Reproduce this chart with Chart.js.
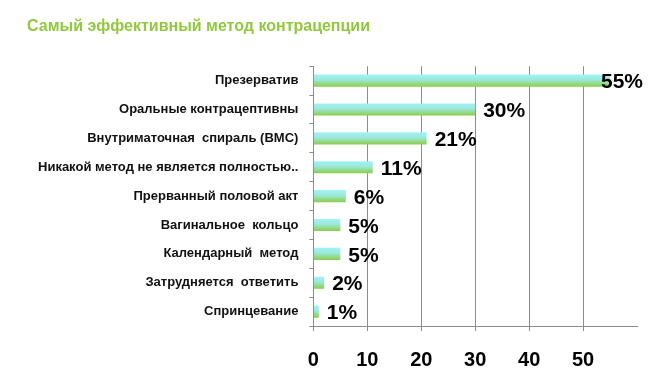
<!DOCTYPE html>
<html>
<head>
<meta charset="utf-8">
<script src="https://cdn.jsdelivr.net/npm/chart.js@4"></script>
<style>
  html, body { margin:0; padding:0; background:#fff; }
  #wrap { width:670px; height:380px; position:relative; }
</style>
</head>
<body>
<div id="wrap"><canvas id="methods" width="670" height="380"></canvas></div>
<script>
var chartTitle = "Самый эффективный метод контрацепции";
var methods = [
    "Презерватив",
    "Оральные контрацептивны",
    "Внутриматочная  спираль (ВМС)",
    "Никакой метод не является полностью..",
    "Прерванный половой акт",
    "Вагинальное  кольцо",
    "Календарный  метод",
    "Затрудняется  ответить",
    "Спринцевание"
];
var percents = [55, 30, 21, 11, 6, 5, 5, 2, 1];
var xTicks = [0, 10, 20, 30, 40, 50];

// вертикальный градиент для каждого бара
function barFill(ctx){
    var chart = ctx.chart;
    var y = chart.scales.y;
    if (!y || ctx.dataIndex === undefined) return "#8fd14f";
    var c = y.getPixelForValue(ctx.dataIndex);
    if (!isFinite(c)) return "#8fd14f";
    var g = chart.ctx.createLinearGradient(0, c - 6, 0, c + 6);
    g.addColorStop(0, "#a2f2f8");
    g.addColorStop(0.45, "#9ce8d8");
    g.addColorStop(1, "#8ccd48");
    return g;
}

var valueLabels = {
    id: "valueLabels",
    afterDatasetsDraw: function(chart){
        var ctx = chart.ctx;
        var meta = chart.getDatasetMeta(0);
        ctx.save();
        ctx.font = "bold 21px 'Liberation Sans', Arial, sans-serif";
        ctx.fillStyle = "#000";
        ctx.textBaseline = "middle";
        ctx.textAlign = "left";
        for (let i = 0; i < meta.data.length; i++){
            let bar = meta.data[i];
            let x = bar.x + 8;
            let txt = percents[i] + "%";
            let w = ctx.measureText(txt).width;
            if (x + w > chart.width - 27) x = chart.width - 27 - w;
            ctx.fillText(txt, x, bar.y + 2);
        }
        ctx.restore();
    }
};

new Chart(document.getElementById("methods"), {
    type: "bar",
    data: {
        labels: methods,
        datasets: [{
            data: percents,
            backgroundColor: barFill,
            borderWidth: 0,
            categoryPercentage: 1,
            barPercentage: 0.42
        }]
    },
    options: {
        indexAxis: "y",
        responsive: false,
        animation: false,
        layout: { padding: { left: 27, right: 33, top: 0, bottom: 0 } },
        plugins: {
            legend: { display: false },
            tooltip: { enabled: false },
            title: {
                display: true,
                text: chartTitle,
                align: "start",
                color: "#92c83e",
                font: { family: "'Liberation Sans', Arial, sans-serif", size: 16, weight: "bold" },
                padding: { top: 17, bottom: 30 }
            }
        },
        scales: {
            x: {
                min: 0,
                max: 60,
                afterBuildTicks: function(axis){
                    axis.ticks = xTicks.map(function(v){ return { value: v }; });
                },
                afterFit: function(axis){ axis.height = 54; },
                grid: {
                    color: function(c){ return c.tick && c.tick.value === 0 ? "rgba(0,0,0,0)" : "#8c8c8c"; },
                    lineWidth: 1,
                    drawTicks: true,
                    tickLength: 5,
                    tickColor: "#8c8c8c"
                },
                border: { display: true, color: "#8c8c8c" },
                ticks: {
                    color: "#000",
                    padding: 17,
                    font: { family: "'Liberation Sans', Arial, sans-serif", size: 20, weight: "bold" }
                }
            },
            y: {
                grid: {
                    display: true,
                    drawOnChartArea: false,
                    offset: true,
                    tickLength: 4,
                    tickColor: "#8c8c8c"
                },
                border: { display: true, color: "#8c8c8c" },
                ticks: {
                    color: "#111",
                    padding: 11,
                    font: { family: "'Liberation Sans', Arial, sans-serif", size: 13, weight: "bold" }
                }
            }
        }
    },
    plugins: [valueLabels]
});
</script>
</body>
</html>
